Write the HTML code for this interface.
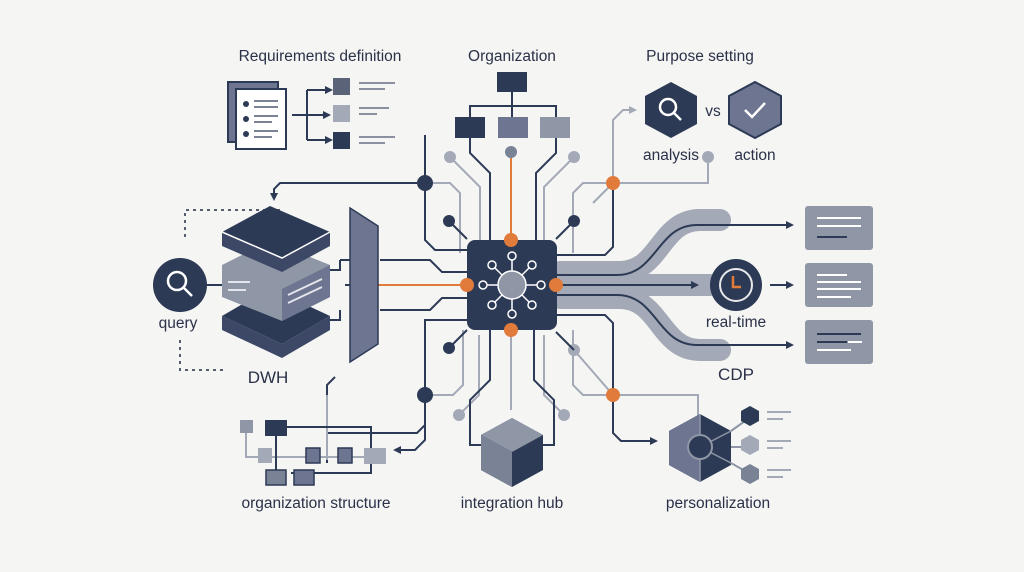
<!DOCTYPE html>
<html><head><meta charset="utf-8"><style>
body{margin:0;background:#f5f5f4}
svg{display:block}
text{font-family:"Liberation Sans",sans-serif;fill:#2a3148;font-size:15.5px;text-anchor:middle}
</style></head><body>
<svg width="1024" height="572" viewBox="0 0 1024 572">
<defs>
<marker id="a" markerWidth="8" markerHeight="8" refX="6" refY="4" orient="auto" markerUnits="userSpaceOnUse"><path d="M0,0 L8,4 L0,8z" fill="#2c3a55"/></marker>
<marker id="g" markerWidth="8" markerHeight="8" refX="6" refY="4" orient="auto" markerUnits="userSpaceOnUse"><path d="M0,0 L8,4 L0,8z" fill="#a3a9b6"/></marker>
</defs>
<rect width="1024" height="572" fill="#f5f5f4"/>
<!-- labels -->
<text x="320" y="61">Requirements definition</text>
<text x="512" y="61">Organization</text>
<text x="700" y="61">Purpose setting</text>
<text x="671" y="160">analysis</text>
<text x="755" y="160">action</text>
<text x="713" y="116">vs</text>
<text x="178" y="328">query</text>
<text x="268" y="383" style="font-size:17px">DWH</text>
<text x="736" y="327">real-time</text>
<text x="736" y="380" style="font-size:17px">CDP</text>
<text x="316" y="508">organization structure</text>
<text x="512" y="508">integration hub</text>
<text x="718" y="508">personalization</text>

<!-- Requirements -->
<rect x="228" y="82" width="50" height="60" fill="#6d7590" stroke="#2c3a55" stroke-width="2"/>
<rect x="236" y="89" width="50" height="60" fill="#fff" stroke="#2c3a55" stroke-width="2"/>
<g fill="#2c3a55"><circle cx="246" cy="104" r="3"/><circle cx="246" cy="119" r="3"/><circle cx="246" cy="134" r="3"/></g>
<g stroke="#7a8296" stroke-width="2"><path d="M254 101h24M254 107h24M254 116h24M254 122h18M254 131h24M254 137h18"/></g>
<g stroke="#2c3a55" stroke-width="2" fill="none"><path d="M292 115h15M307 90v50M307 115h22" marker-end="url(#a)"/></g>
<path d="M307 90h24" stroke="#2c3a55" stroke-width="2" marker-end="url(#a)"/>
<path d="M307 140h24" stroke="#2c3a55" stroke-width="2" marker-end="url(#a)"/>
<rect x="333" y="78" width="17" height="17" fill="#5a6378"/>
<rect x="333" y="105" width="17" height="17" fill="#a3a9b6"/>
<rect x="333" y="132" width="17" height="17" fill="#2c3a55"/>
<g stroke="#8a90a0" stroke-width="2"><path d="M359 83h36M359 89h26M359 108h30M359 114h18M359 137h36M359 143h26"/></g>

<!-- Organization chart -->
<rect x="497" y="72" width="30" height="20" fill="#2c3a55"/>
<path d="M512 92v14M470 117v-11h86v11M512 106v11" stroke="#2c3a55" stroke-width="2" fill="none"/>
<rect x="455" y="117" width="30" height="21" fill="#2c3a55"/>
<rect x="498" y="117" width="30" height="21" fill="#6d7590"/>
<rect x="540" y="117" width="30" height="21" fill="#8f96a6"/>

<!-- traces gray -->
<g stroke="#a3a9b6" stroke-width="2" fill="none">
<path d="M450 157l30 30v65h-12"/>
<path d="M574 157l-30 30v65h12"/>
<path d="M425 183h25l10 10v60"/>
<path d="M613 183h-30l-10 10v60"/>
<path d="M613 183l-20 20"/>
<path d="M613 183v-63l10-10h12" marker-end="url(#g)"/>
<path d="M613 183h95v-25"/>
<path d="M574 350l39 45M459 415l20-20v-60M564 415l-20-20v-60"/>
<path d="M425 395h28l10-10v-55M613 395h-30l-10-10v-55"/>
<path d="M613 395h85v25"/>
</g>
<g fill="#a3a9b6"><circle cx="450" cy="157" r="6"/><circle cx="574" cy="157" r="6"/><circle cx="708" cy="157" r="6"/><circle cx="574" cy="350" r="6"/><circle cx="459" cy="415" r="6"/><circle cx="564" cy="415" r="6"/></g>
<!-- navy traces -->
<g stroke="#2c3a55" stroke-width="2" fill="none">
<path d="M470 138v15l20 20v67M556 138v15l-20 20v67"/>
<path d="M425 135v105l10 10h32"/>
<path d="M425 183h-145l-6 6v10" marker-end="url(#a)"/>
<path d="M449 221l18 18M574 221l-18 18"/>
<path d="M555 255h50l8-8v-64"/>
<path d="M340 260h30M380 260h50l12 12h25M380 310h50l12-12h25M345 285h25"/>
<path d="M340 260v10h-15M340 310v10h-15"/>
<path d="M467 320h-42v75M425 395v30l-8 8h-90v30"/>
<path d="M425 395v45l-10 10h-20" marker-end="url(#a)"/>
<path d="M449 348l18-18M574 350l-18-18"/>
<path d="M555 315h50l8 8v110l8 8h35" marker-end="url(#a)"/>
<path d="M490 330v50l-20 20v45h20M534 330v50l20 20v45h-20"/>
<path d="M207 285h15"/>
</g>
<path d="M511 152v88" stroke="#e07b3c" stroke-width="2"/>
<circle cx="511" cy="152" r="6" fill="#7a8296"/>
<path d="M511 330v80" stroke="#a3a9b6" stroke-width="2"/>
<g fill="#2c3a55"><circle cx="425" cy="183" r="8"/><circle cx="425" cy="395" r="8"/><circle cx="449" cy="221" r="6"/><circle cx="574" cy="221" r="6"/><circle cx="449" cy="348" r="6"/></g>
<path d="M280 210h-95v30M180 340v30h45" stroke="#555d70" stroke-width="2" stroke-dasharray="3 4" fill="none"/>

<!-- CDP bands -->
<g stroke="#a3a9b6" stroke-width="22" fill="none" stroke-linecap="round">
<path d="M560 272h60c40 0 40-52 80-52h20"/>
<path d="M560 298h60c40 0 40 52 80 52h20"/>
<path d="M560 285h150"/>
</g>
<g stroke="#2c3a55" stroke-width="2" fill="none">
<path d="M557 275h60c40 0 40-50 80-50h95" marker-end="url(#a)"/>
<path d="M557 295h60c40 0 40 50 80 50h95" marker-end="url(#a)"/>
<path d="M557 285h140" marker-end="url(#a)"/>
<path d="M770 285h22" marker-end="url(#a)"/>
</g>
<circle cx="736" cy="285" r="26" fill="#2c3a55"/>
<circle cx="736" cy="285" r="16" fill="none" stroke="#e8e8ec" stroke-width="2"/>
<path d="M733 276v11h8" stroke="#e07b3c" stroke-width="2.5" fill="none"/>
<g fill="#8f96a6"><rect x="805" y="206" width="68" height="44" rx="3"/><rect x="805" y="263" width="68" height="44" rx="3"/><rect x="805" y="320" width="68" height="44" rx="3"/></g>
<g stroke="#fff" stroke-width="2"><path d="M817 218h44M817 226h44M817 275h30M817 282h44M817 289h44M817 297h34M848 342h14M817 350h34"/></g>
<g stroke="#2c3a55" stroke-width="2"><path d="M817 237h30M817 334h44M817 342h30"/></g>

<!-- chip -->
<rect x="467" y="240" width="90" height="90" rx="8" fill="#2c3a55"/>
<g stroke="#fff" stroke-width="1.5" fill="none">
<path d="M512 285l0-25M512 285l0 25M512 285l-25 0M512 285l25 0M512 285l-18-18M512 285l18-18M512 285l-18 18M512 285l18 18"/>
<g fill="#2c3a55"><circle cx="512" cy="256" r="4"/><circle cx="512" cy="314" r="4"/><circle cx="483" cy="285" r="4"/><circle cx="541" cy="285" r="4"/><circle cx="492" cy="265" r="4"/><circle cx="532" cy="265" r="4"/><circle cx="492" cy="305" r="4"/><circle cx="532" cy="305" r="4"/></g>
</g>
<circle cx="512" cy="285" r="14" fill="#8f96a6" stroke="#fff" stroke-width="1.5"/>
<path d="M365 285h102" stroke="#e07b3c" stroke-width="2"/>
<g fill="#e07b3c"><circle cx="511" cy="240" r="7"/><circle cx="467" cy="285" r="7"/><circle cx="556" cy="285" r="7"/><circle cx="511" cy="330" r="7"/><circle cx="613" cy="183" r="7"/><circle cx="613" cy="395" r="7"/></g>
<circle cx="366" cy="285" r="7" fill="#e07b3c" stroke="#fff" stroke-width="2"/>

<!-- panel -->
<path d="M350 208l28 18v118l-28 18z" fill="#6d7590" stroke="#2c3a55" stroke-width="1.5"/>

<!-- DWH stack -->
<path d="M222 316l48-28 60 28-48 28z" fill="#2c3a55"/><path d="M222 316v14l60 28v-14zM282 344v14l48-28v-14z" fill="#3c4866"/>
<path d="M222 265l48-24 60 24v32l-48 24-60-24z" fill="#8f96a6"/><path d="M282 289v32l48-24v-32z" fill="#6d7590"/>
<path d="M228 282h22M228 290h18M288 295l34-16M288 303l34-16" stroke="#e3e5ea" stroke-width="2"/>
<path d="M222 232l48-26 60 26-48 26z" fill="#2c3a55"/><path d="M222 232v14l60 26v-14zM282 258v14l48-26v-14z" fill="#3c4866"/>
<path d="M222 232l60 26l48-26" stroke="#fff" stroke-width="1.5" fill="none"/>
<circle cx="180" cy="285" r="27" fill="#2c3a55"/>
<circle cx="177" cy="281" r="9" fill="none" stroke="#fff" stroke-width="2.5"/><path d="M184 288l8 8" stroke="#fff" stroke-width="2.5"/>

<!-- purpose hexes -->
<path d="M671 82l26 14v28l-26 14-26-14v-28z" fill="#2c3a55"/>
<circle cx="668" cy="107" r="8" fill="none" stroke="#fff" stroke-width="2.5"/><path d="M674 113l7 7" stroke="#fff" stroke-width="2.5"/>
<path d="M755 82l26 14v28l-26 14-26-14v-28z" fill="#6d7590" stroke="#2c3a55" stroke-width="2"/>
<path d="M745 110l7 7 13-14" stroke="#fff" stroke-width="2.5" fill="none"/>

<!-- personalization -->
<path d="M700 414l31 17v34l-31 17-31-17v-34z" fill="#2c3a55"/>
<path d="M700 414l-31 17v34l31 17z" fill="#6d7590"/>
<path d="M700 414v68M700 447l31-16M700 447l31 16" stroke="#8f96a6" stroke-width="1.5"/>
<circle cx="700" cy="447" r="12" fill="#2c3a55" stroke="#8f96a6" stroke-width="2"/>
<path d="M731 431l14-10M731 447h14M731 463l14 8" stroke="#8f96a6" stroke-width="2"/>
<path d="M750 406l9 5v10l-9 5-9-5v-10z" fill="#2c3a55"/>
<path d="M750 435l9 5v10l-9 5-9-5v-10z" fill="#a3a9b6"/>
<path d="M750 464l9 5v10l-9 5-9-5v-10z" fill="#7a8296"/>
<g stroke="#a3a9b6" stroke-width="2"><path d="M767 412h24M767 419h16M767 441h24M767 448h16M767 470h24M767 477h16"/></g>

<!-- cube -->
<path d="M512 418l31 17v35l-31 17-31-17v-35z" fill="#2c3a55"/>
<path d="M512 418l-31 17 31 17 31-17z" fill="#8f96a6"/>
<path d="M481 435v35l31 17v-35z" fill="#7a8296"/>

<!-- org structure -->
<g stroke="#a3a9b6" stroke-width="2" fill="none"><path d="M246 430v27h140M327 460v-70"/></g>
<g stroke="#2c3a55" stroke-width="2" fill="none"><path d="M276 427h95v46h-80M276 427v45M327 395v-10l8-8"/></g>
<rect x="240" y="420" width="13" height="13" fill="#8f96a6"/>
<rect x="265" y="420" width="22" height="16" fill="#2c3a55"/>
<rect x="258" y="448" width="14" height="15" fill="#a3a9b6"/>
<rect x="306" y="448" width="14" height="15" fill="#6d7590" stroke="#2c3a55" stroke-width="1.5"/>
<rect x="338" y="448" width="14" height="15" fill="#6d7590" stroke="#2c3a55" stroke-width="1.5"/>
<rect x="364" y="448" width="22" height="16" fill="#a3a9b6"/>
<rect x="266" y="470" width="20" height="15" fill="#7a8296" stroke="#2c3a55" stroke-width="1.5"/>
<rect x="294" y="470" width="20" height="15" fill="#6d7590" stroke="#2c3a55" stroke-width="1.5"/>
</svg>
</body></html>
